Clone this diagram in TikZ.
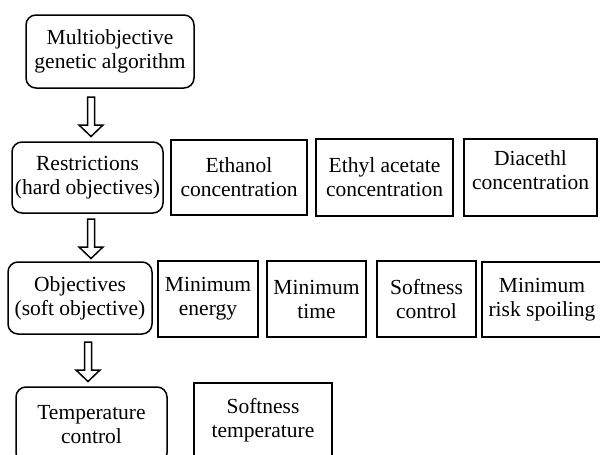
\documentclass[tikz,border=0pt]{standalone}
\usepackage{fontspec}
\setmainfont{Liberation Serif}
\usepackage{tikz}
\usetikzlibrary{positioning}
\tikzset{
  rbox/.style={draw, rounded corners=10pt, line width=1.5pt, align=center, inner sep=0pt, font=\fontsize{21.5}{24}\selectfont},
  sbox/.style={draw, line width=1.5pt, align=center, inner sep=0pt, font=\fontsize{21.5}{24}\selectfont},
  plaintext/.style={align=center, inner sep=0pt, font=\fontsize{21.5}{24}\selectfont}
}
\newcommand{\hollowdown}[1]{\draw[line width=1.5pt, line join=miter] (#1) ++(-3.5,0) -- ++(0,28) -- ++(-8.5,0) -- ++(12,11.5) -- ++(12,-11.5) -- ++(-8.5,0) -- ++(0,-28) -- cycle;}

\begin{document}
\begin{tikzpicture}[x=1pt, y=-1pt]
\useasboundingbox (0,0) rectangle (600,455);
\node[rbox, minimum width=168pt, minimum height=73pt] (multi) at (110,51.5) {Multiobjective\\genetic algorithm};
\node[rbox, minimum width=151pt, minimum height=71pt] (restr) at (87.5,177.5) {Restrictions\\(hard objectives)};
\node[sbox, minimum width=136pt, minimum height=75pt] (ethanol) at (239,177.5) {Ethanol\\concentration};
\node[sbox, minimum width=137pt, minimum height=77pt] (ethyl) at (384.5,177.5) {Ethyl acetate\\concentration};
\node[sbox, minimum width=133pt, minimum height=77pt] (diac) at (530.5,177.5) {};
\node[plaintext] (diactext) at (530.5,170) {Diacethl\\concentration};
\node[rbox, minimum width=144pt, minimum height=72pt] (obj) at (80,298) {Objectives\\(soft objective)};
\node[sbox, minimum width=100pt, minimum height=76pt] (energy) at (208,299) {Minimum\\energy};
\node[sbox, minimum width=99pt, minimum height=76pt] (time) at (316.5,299) {Minimum\\time};
\node[sbox, minimum width=99pt, minimum height=76pt] (softctrl) at (426.5,299) {Softness\\control};
\node[sbox, minimum width=120pt, minimum height=75pt] (risk) at (542,299.5) {Minimum\\risk spoiling};
\node[rbox, minimum width=151pt, minimum height=76pt] (tempctrl) at (91.5,425) {Temperature\\control};
\node[sbox, minimum width=138pt, minimum height=74pt] (softtemp) at (263,420) {Softness\\temperature};
\coordinate (arr1) at (91,97);
\coordinate (arr2) at (91,219);
\coordinate (arr3) at (88,342);
\hollowdown{arr1}
\hollowdown{arr2}
\hollowdown{arr3}
\end{tikzpicture}
\end{document}
